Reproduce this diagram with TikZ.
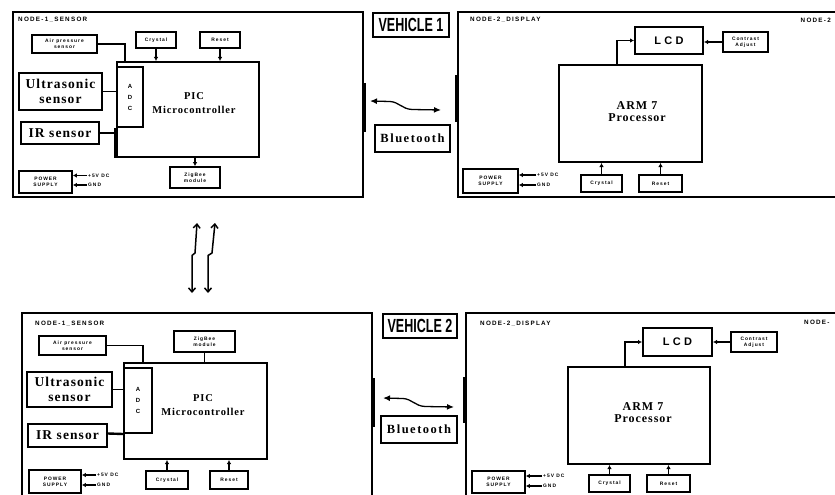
\documentclass[tikz,border=0pt]{standalone}
\usepackage{fontspec}
\usetikzlibrary{arrows.meta}
\newfontfamily\lsans{Liberation Sans}
\newfontfamily\smallsans[LetterSpace=20]{Liberation Sans}
\newfontfamily\widesans[LetterSpace=30]{Liberation Sans}
\newfontfamily\lserif[LetterSpace=8]{Liberation Serif}
\newfontfamily\btserif[LetterSpace=12]{Liberation Serif}
\tikzset{
  panel/.style={draw, line width=2.2pt, inner sep=0pt},
  blk/.style={draw, line width=1.7pt, inner sep=0pt, align=center,
    font=\smallsans\bfseries\fontsize{4.9}{5.8}\selectfont},
  bigblk/.style={draw, line width=2pt, inner sep=0pt, align=center,
    font=\lserif\bfseries\fontsize{13.5}{15}\selectfont},
  cpu/.style={draw, line width=2pt, inner sep=0pt, align=center},
  lbl/.style={inner sep=0pt, font=\smallsans\bfseries\fontsize{6.3}{7}\selectfont},
  plbl/.style={inner sep=0pt, anchor=west, font=\smallsans\bfseries\fontsize{4.9}{5}\selectfont},
  conn/.style={line width=1.7pt},
  arr/.style={line width=1.4pt, -{Latex[length=4pt,width=4.5pt]}},
  wave/.style={line width=1.3pt, {Latex[length=7pt,width=6pt]}-{Latex[length=7pt,width=6pt]}},
  thickseg/.style={line width=4pt},
  zig/.style={line width=1.5pt, {Straight Barb[length=4pt,width=7pt]}-{Straight Barb[length=4pt,width=7pt]}},
  veh/.style={draw, line width=1.7pt, inner sep=0pt},
}
\begin{document}
\begin{tikzpicture}[x=1pt,y=-1pt]
\clip (0,0) rectangle (835,495);
\fill[white] (0,0) rectangle (835,495);

% ================= VEHICLE 1 =================
\node[panel, minimum width=350, minimum height=185] (P1) at (188,104.5) {};
\node[lbl, anchor=west] (n1) at (18,20) {NODE-1\_SENSOR};
\node[blk, minimum width=65, minimum height=18] (airA) at (64.5,44) {Air pressure\\sensor};
\node[blk, minimum width=40, minimum height=16] (crysA) at (156,40) {Crystal};
\node[blk, minimum width=40, minimum height=16] (resetA) at (220,40) {Reset};
\node[cpu, minimum width=142, minimum height=95] (picA) at (188,109.5) {};
\node[inner sep=0pt, align=center, font=\lserif\bfseries\fontsize{10.5}{14}\selectfont] (picAt) at (194,103) {PIC\\Microcontroller};
\node[cpu, minimum width=26, minimum height=60, font=\smallsans\bfseries\fontsize{6}{11}\selectfont] (adcA) at (130,97) {A\\D\\C};
\node[bigblk, minimum width=83, minimum height=37] (usA) at (60.5,91.5) {Ultrasonic\\sensor};
\node[bigblk, minimum width=78, minimum height=22] (irA) at (60,133) {IR sensor};
\node[blk, minimum width=50, minimum height=21] (zigA) at (195,177.5) {ZigBee\\module};
\node[blk, minimum width=53, minimum height=22] (pwrA) at (45.5,182) {POWER\\SUPPLY};
\node[plbl] (v5A) at (88,175.5) {+5V DC};
\node[plbl] (gndA) at (88,185) {GND};
\coordinate (airAend) at (125,62);
\draw[conn] (airA.east) -| (airAend);
\draw[conn] (usA.east) -- (usA.east -| adcA.west);
\draw[line width=2.4pt] (irA.east) -- (irA.east -| picA.west);
\draw[line width=3.4pt] (adcA.south west) -- (picA.south west);
\draw[arr] (crysA.south) -- (crysA.south |- picA.north);
\draw[arr] (resetA.south) -- (resetA.south |- picA.north);
\draw[arr] (picA.south -| zigA.north) -- (zigA.north);
\draw[arr] ([xshift=-1pt]v5A.west) -- (v5A.west -| pwrA.east);
\draw[arr] ([xshift=-1pt]gndA.west) -- (gndA.west -| pwrA.east);
\draw[thickseg] (P1.east) ++(0,-21.5) -- ++(0,49);

\node[panel, minimum width=387, minimum height=185] (P2) at (651.5,104.5) {};
\node[lbl, anchor=west] (n2) at (470,20) {NODE-2\_DISPLAY};
\node[lbl, anchor=east] (n2r) at (831,20) {NODE-2};
\node[draw, line width=2pt, minimum width=68, minimum height=27, inner sep=0pt,
  font=\widesans\bfseries\fontsize{11}{12}\selectfont] (lcdB) at (669,40.5) {LCD};
\node[blk, minimum width=45, minimum height=20] (conB) at (745.5,42) {Contrast\\Adjust};
\node[cpu, minimum width=143, minimum height=97] (armB) at (630.5,113.5) {};
\node[inner sep=0pt, align=center, font=\lserif\bfseries\fontsize{12}{12}\selectfont] (armBt) at (637,112) {ARM 7\\Processor};
\node[blk, minimum width=41, minimum height=17] (crysB) at (601.5,183.5) {Crystal};
\node[blk, minimum width=43, minimum height=17] (resetB) at (660.5,183.5) {Reset};
\node[blk, minimum width=55, minimum height=24] (pwrB) at (490.5,181) {POWER\\SUPPLY};
\node[plbl] (v5B) at (537,175) {+5V DC};
\node[plbl] (gndB) at (537,185) {GND};
\draw[arr] ([xshift=-13.5pt]armB.north) |- (lcdB.west);
\draw[arr] (conB.west) -- (conB.west -| lcdB.east);
\draw[arr] (crysB.north) -- (crysB.north |- armB.south);
\draw[arr] (resetB.north) -- (resetB.north |- armB.south);
\draw[arr] ([xshift=-1pt]v5B.west) -- (v5B.west -| pwrB.east);
\draw[arr] ([xshift=-1pt]gndB.west) -- (gndB.west -| pwrB.east);
\draw[thickseg] (P2.west) ++(0,-29.5) -- ++(0,47);

\node[veh, minimum width=76, minimum height=24] (veh1) at (411,25)
  {\scalebox{0.66}[1]{\lsans\bfseries\fontsize{19}{19}\selectfont VEHICLE 1}};
\node[draw, line width=1.5pt, minimum width=75, minimum height=27, inner sep=0pt,
  font=\btserif\bfseries\fontsize{12.5}{13}\selectfont] (bt1) at (412.5,138.5) {Bluetooth};
\coordinate (w1a) at (370,101);
\coordinate (w1b) at (441,110);
\draw[wave] (w1a) -- (390,101.5) .. controls (399,102) and (402,109) .. (412,109.5) -- (w1b);

% ================= link between vehicles =================
\coordinate (za1) at (197,223);
\coordinate (zb1) at (192,293);
\coordinate (za2) at (215,223);
\coordinate (zb2) at (208,293);
\draw[zig] (za1) -- (195,253) -- (192,255.5) -- (zb1);
\draw[zig] (za2) -- (212,253) -- (208,255.5) -- (zb2);

% ================= VEHICLE 2 =================
\node[panel, minimum width=350, minimum height=197] (P3) at (197,411.5) {};
\node[lbl, anchor=west] (n3) at (35,324) {NODE-1\_SENSOR};
\node[blk, minimum width=67, minimum height=19] (airC) at (72.5,345.5) {Air pressure\\sensor};
\node[blk, minimum width=61, minimum height=21] (zigC) at (204.5,341.5) {ZigBee\\module};
\node[cpu, minimum width=143, minimum height=96] (picC) at (195.5,411) {};
\node[inner sep=0pt, align=center, font=\lserif\bfseries\fontsize{10.5}{14}\selectfont] (picCt) at (203,405) {PIC\\Microcontroller};
\node[cpu, minimum width=28, minimum height=65, font=\smallsans\bfseries\fontsize{6}{11}\selectfont] (adcC) at (138,400.5) {A\\D\\C};
\node[bigblk, minimum width=85, minimum height=35] (usC) at (69.5,389.5) {Ultrasonic\\sensor};
\node[bigblk, minimum width=79, minimum height=23] (irC) at (67.5,435.5) {IR sensor};
\node[blk, minimum width=42, minimum height=18] (crysC) at (167,480) {Crystal};
\node[blk, minimum width=38, minimum height=18] (resetC) at (229,480) {Reset};
\node[blk, minimum width=52, minimum height=23] (pwrC) at (55,481.5) {POWER\\SUPPLY};
\node[plbl] (v5C) at (97,475) {+5V DC};
\node[plbl] (gndC) at (97,485) {GND};
\coordinate (airCend) at (143,363);
\draw[conn] (airC.east) -| (airCend);
\draw[conn] (usC.east) -- (usC.east -| adcC.west);
\draw[line width=2.4pt] (irC.east) ++(0,-2) -- (adcC.south west);
\draw[conn] (zigC.south) -- (zigC.south |- picC.north);
\draw[arr] (crysC.north) -- (crysC.north |- picC.south);
\draw[arr] (resetC.north) -- (resetC.north |- picC.south);
\draw[arr] ([xshift=-1pt]v5C.west) -- (v5C.west -| pwrC.east);
\draw[arr] ([xshift=-1pt]gndC.west) -- (gndC.west -| pwrC.east);
\draw[thickseg] (P3.east) ++(0,-33.5) -- ++(0,49);

\node[panel, minimum width=379, minimum height=197] (P4) at (655.5,411.5) {};
\node[lbl, anchor=west] (n4) at (480,324) {NODE-2\_DISPLAY};
\node[lbl, anchor=west] (n4r) at (804,322) {NODE-};
\node[draw, line width=2pt, minimum width=69, minimum height=28, inner sep=0pt,
  font=\widesans\bfseries\fontsize{11}{12}\selectfont] (lcdD) at (677.5,342) {LCD};
\node[blk, minimum width=46, minimum height=20] (conD) at (754,342) {Contrast\\Adjust};
\node[cpu, minimum width=142, minimum height=97] (armD) at (639,415.5) {};
\node[inner sep=0pt, align=center, font=\lserif\bfseries\fontsize{12}{12}\selectfont] (armDt) at (643,413) {ARM 7\\Processor};
\node[blk, minimum width=41, minimum height=17] (crysD) at (609.5,483.5) {Crystal};
\node[blk, minimum width=43, minimum height=17] (resetD) at (668.5,483.5) {Reset};
\node[blk, minimum width=53, minimum height=22] (pwrD) at (498.5,482) {POWER\\SUPPLY};
\node[plbl] (v5D) at (543,476) {+5V DC};
\node[plbl] (gndD) at (543,486) {GND};
\draw[arr] ([xshift=-14pt]armD.north) |- (lcdD.west);
\draw[arr] (conD.west) -- (conD.west -| lcdD.east);
\draw[arr] (crysD.north) -- (crysD.north |- armD.south);
\draw[arr] (resetD.north) -- (resetD.north |- armD.south);
\draw[arr] ([xshift=-1pt]v5D.west) -- (v5D.west -| pwrD.east);
\draw[arr] ([xshift=-1pt]gndD.west) -- (gndD.west -| pwrD.east);
\draw[thickseg] (P4.west) ++(0,-34.5) -- ++(0,46);

\node[veh, minimum width=74, minimum height=24] (veh2) at (420,326)
  {\scalebox{0.66}[1]{\lsans\bfseries\fontsize{19}{19}\selectfont VEHICLE 2}};
\node[draw, line width=1.5pt, minimum width=76, minimum height=27, inner sep=0pt,
  font=\btserif\bfseries\fontsize{12.5}{13}\selectfont] (bt2) at (419,429.5) {Bluetooth};
\coordinate (w2a) at (383,398);
\coordinate (w2b) at (454,407);
\draw[wave] (w2a) -- (403,398.5) .. controls (412,399) and (415,406) .. (425,406.5) -- (w2b);
\end{tikzpicture}
\end{document}
